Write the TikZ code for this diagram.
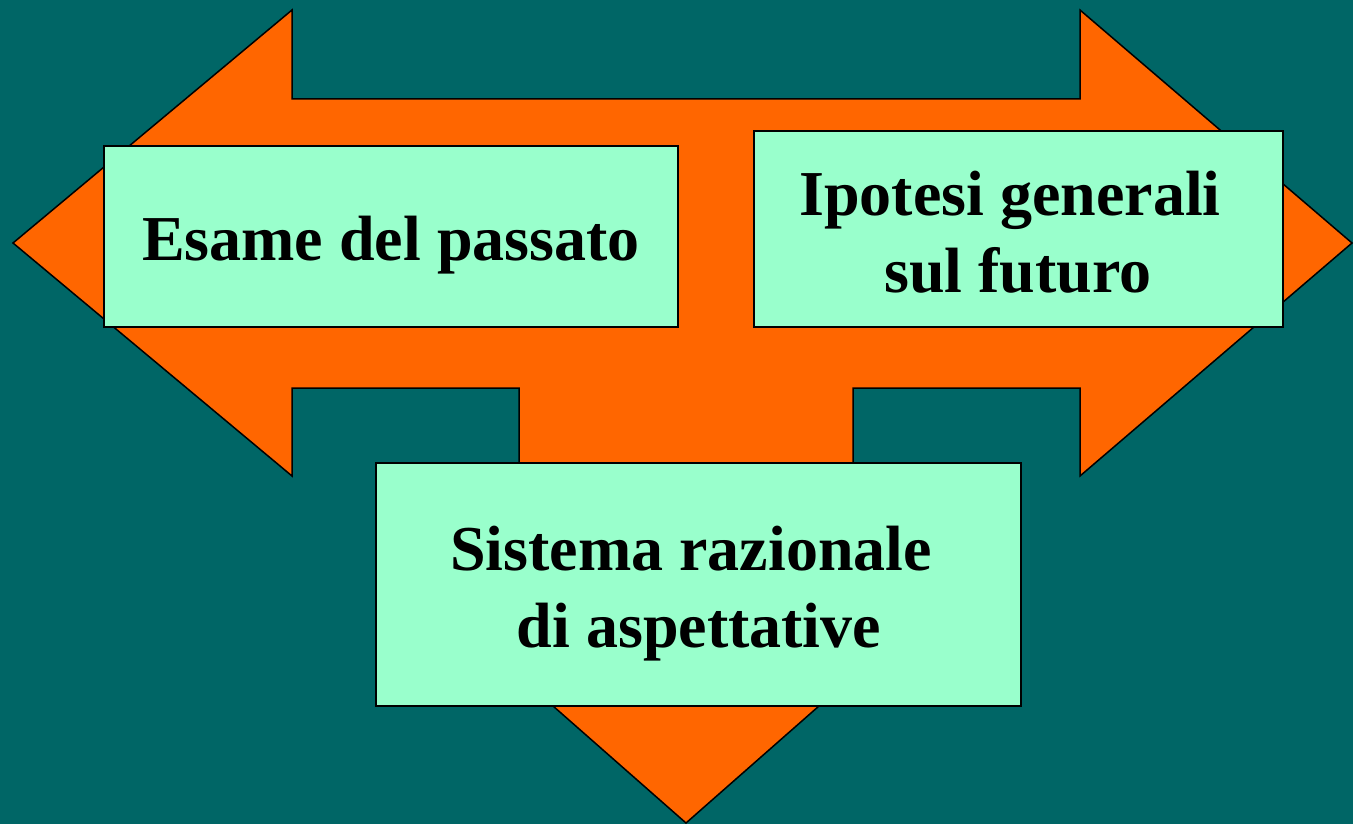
\documentclass[tikz,border=0pt]{standalone}
\usepackage{fontspec}
\setmainfont{Liberation Serif}
\definecolor{bgteal}{HTML}{006666}
\definecolor{arroworange}{HTML}{FF6600}
\definecolor{boxmint}{HTML}{99FFCC}
\tikzset{
  arrowshape/.style={fill=arroworange, draw=black, line width=1.5pt, line join=miter},
  mintbox/.style={rectangle, fill=boxmint, draw=black, line width=1.5pt, inner sep=0pt},
  boxtext/.style={inner sep=0pt, align=center, font=\fontsize{64}{77}\selectfont\bfseries}
}
\begin{document}
\begin{tikzpicture}[x=1pt,y=-1pt]
\useasboundingbox (0,0) rectangle (1353,824);
\fill[bgteal] (0,0) rectangle (1353,824);
% three-way arrow
\draw[arrowshape] (13,243) -- (292,10) -- (292,99) -- (1080,99) -- (1080,10) -- (1352,243)
  -- (1080,476) -- (1080,388) -- (853,388) -- (853,618) -- (919,618) -- (686,823)
  -- (453,618) -- (519,618) -- (519,388) -- (292,388) -- (292,476) -- cycle;
% boxes
\node[mintbox, minimum width=574pt, minimum height=181pt] (past) at (391,236.5) {};
\node[mintbox, minimum width=529pt, minimum height=196pt] (future) at (1018.5,229) {};
\node[mintbox, minimum width=645pt, minimum height=243pt] (system) at (698.5,584.5) {};
% texts (base anchor = baseline of the last line)
\node[boxtext, anchor=base] (pasttext) at (391,260) {Esame del passato};
\node[boxtext, anchor=base] (futuretext) at (1018,292) {Ipotesi generali\kern16pt\\sul futuro};
\node[boxtext, anchor=base] (systemtext) at (699,647) {Sistema razionale\kern16pt\\di aspettative};
\end{tikzpicture}
\end{document}
